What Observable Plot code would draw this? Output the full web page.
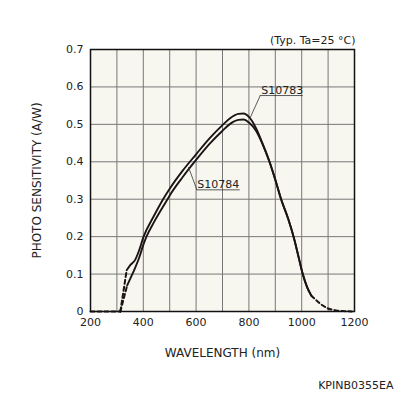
<!DOCTYPE html>
<html>
<head>
<meta charset="utf-8">
<script src="https://cdn.jsdelivr.net/npm/d3@7"></script>
<script src="https://cdn.jsdelivr.net/npm/@observablehq/plot@0.6"></script>
<style>
  html, body { margin: 0; padding: 0; background: #ffffff; }
</style>
</head>
<body>
<div id="chart"></div>
<script>
// ---- data ----
const xTicks = [200, 400, 600, 800, 1000, 1200];
const yTicks = [0, 0.1, 0.2, 0.3, 0.4, 0.5, 0.6, 0.7];
const xGrid = [300, 400, 500, 600, 700, 800, 900, 1000, 1100];
const yGrid = [0.1, 0.2, 0.3, 0.4, 0.5, 0.6];

// S10783 (upper curve), solid part
const wl783 = [337, 352, 369, 385, 400, 440, 475, 500, 550, 600, 650, 700, 730, 760, 780, 800, 827, 850, 878, 900, 922, 950, 973, 990, 1004, 1020, 1036];
const ps783 = [0.11, 0.125, 0.138, 0.165, 0.198, 0.255, 0.30, 0.328, 0.377, 0.42, 0.462, 0.498, 0.517, 0.528, 0.529, 0.52, 0.49, 0.452, 0.40, 0.352, 0.30, 0.245, 0.19, 0.14, 0.10, 0.066, 0.043];
// S10784 (lower curve), solid part
const wl784 = [339, 352, 365, 385, 400, 412, 440, 490, 500, 550, 600, 650, 700, 730, 760, 780, 800, 827, 850, 878, 900, 922, 950, 973, 990, 1004, 1020, 1036];
const ps784 = [0.07, 0.09, 0.11, 0.145, 0.178, 0.2, 0.238, 0.298, 0.31, 0.36, 0.405, 0.447, 0.483, 0.502, 0.512, 0.513, 0.505, 0.483, 0.45, 0.40, 0.352, 0.30, 0.245, 0.19, 0.14, 0.10, 0.066, 0.043];

// dashed (extrapolated) parts
const wlBase = [200, 313];
const psBase = [0, 0];
const wl783Low = [313, 325, 337];
const ps783Low = [0, 0.055, 0.11];
const wl784Low = [313, 326, 339];
const ps784Low = [0, 0.035, 0.07];
const wlHigh = [1036, 1060, 1080, 1100, 1130, 1160, 1190];
const psHigh = [0.043, 0.027, 0.016, 0.008, 0.003, 0.001, 0];

// annotations
const labelNames = ["S10783", "S10784"];
const labelX = [926, 684];
const labelY = [0.577, 0.325];
const underlineX1 = [843, 603];
const underlineX2 = [1006, 767];
const leaderX = [805, 571];
const leaderY = [0.518, 0.386];

const toPts = (xs, ys) => xs.map((x, i) => ({x, y: ys[i]}));

const ink = "#1c1414";
const font = "DejaVu Sans";

const underlines = labelNames.map((n, i) => ({x1: underlineX1[i], x2: underlineX2[i], y: labelY[i]}));
const leaders = labelNames.map((n, i) => ({x1: underlineX1[i], y1: labelY[i], x2: leaderX[i], y2: leaderY[i]}));
const labels = labelNames.map((n, i) => ({name: n, x: labelX[i], y: labelY[i]}));

const chart = Plot.plot({
  width: 396,
  height: 396,
  marginLeft: 90,
  marginRight: 42,
  marginTop: 49,
  marginBottom: 85,
  x: {domain: [200, 1200]},
  y: {domain: [0, 0.7]},
  style: {fontFamily: font, fontSize: "11px", background: "#ffffff", color: "#222"},
  marks: [
    Plot.frame({fill: "#f7f6ef", stroke: "none"}),
    Plot.gridX(xGrid, {stroke: "#777", strokeOpacity: 1, strokeWidth: 1}),
    Plot.gridY(yGrid, {stroke: "#777", strokeOpacity: 1, strokeWidth: 1}),
    Plot.axisX(xTicks, {tickSize: 0, tickPadding: 7, label: null, fontSize: 11, tickFormat: d => String(d)}),
    Plot.axisY(yTicks, {tickSize: 0, tickPadding: 7, label: null, fontSize: 11,
      tickFormat: d => d === 0 ? "0" : d.toFixed(1)}),
    // dashed parts
    Plot.line(toPts(wlBase, psBase), {x: "x", y: "y", stroke: ink, strokeWidth: 2, strokeDasharray: "4,3"}),
    Plot.line(toPts(wl783Low, ps783Low), {x: "x", y: "y", stroke: ink, strokeWidth: 2, strokeDasharray: "4,3"}),
    Plot.line(toPts(wl784Low, ps784Low), {x: "x", y: "y", stroke: ink, strokeWidth: 2, strokeDasharray: "4,3"}),
    Plot.line(toPts(wlHigh, psHigh), {x: "x", y: "y", stroke: ink, strokeWidth: 2, strokeDasharray: "4,3", curve: "monotone-x"}),
    // solid curves
    Plot.line(toPts(wl783, ps783), {x: "x", y: "y", stroke: ink, strokeWidth: 1.9, curve: "monotone-x"}),
    Plot.line(toPts(wl784, ps784), {x: "x", y: "y", stroke: ink, strokeWidth: 1.9, curve: "monotone-x"}),
    // annotations
    Plot.ruleY(underlines, {x1: "x1", x2: "x2", y: "y", stroke: "#333", strokeWidth: 0.8}),
    Plot.link(leaders, {x1: "x1", y1: "y1", x2: "x2", y2: "y2", stroke: "#333", strokeWidth: 0.8}),
    Plot.text(labels, {x: "x", y: "y", text: "name", lineAnchor: "bottom", dy: -2, fontSize: 11, fill: "#222"}),
    Plot.frame({stroke: "#111", strokeWidth: 1.5}),
    // titles
    Plot.text(["(Typ. Ta=25 °C)"], {frameAnchor: "top-right", textAnchor: "end", lineAnchor: "middle", dy: -9, dx: 1, fontSize: 11, fill: "#222"}),
    Plot.text(["WAVELENGTH (nm)"], {frameAnchor: "bottom", textAnchor: "middle", lineAnchor: "middle", dy: 42, fontSize: 12, fill: "#222"}),
    Plot.text(["PHOTO SENSITIVITY (A/W)"], {frameAnchor: "left", textAnchor: "middle", lineAnchor: "middle", dx: -53, rotate: -90, fontSize: 12, fill: "#222"}),
    Plot.text(["KPINB0355EA"], {frameAnchor: "bottom-right", textAnchor: "end", lineAnchor: "middle", dx: 39, dy: 74, fontSize: 11, fill: "#222"})
  ]
});

document.getElementById("chart").appendChild(chart);
</script>
</body>
</html>
